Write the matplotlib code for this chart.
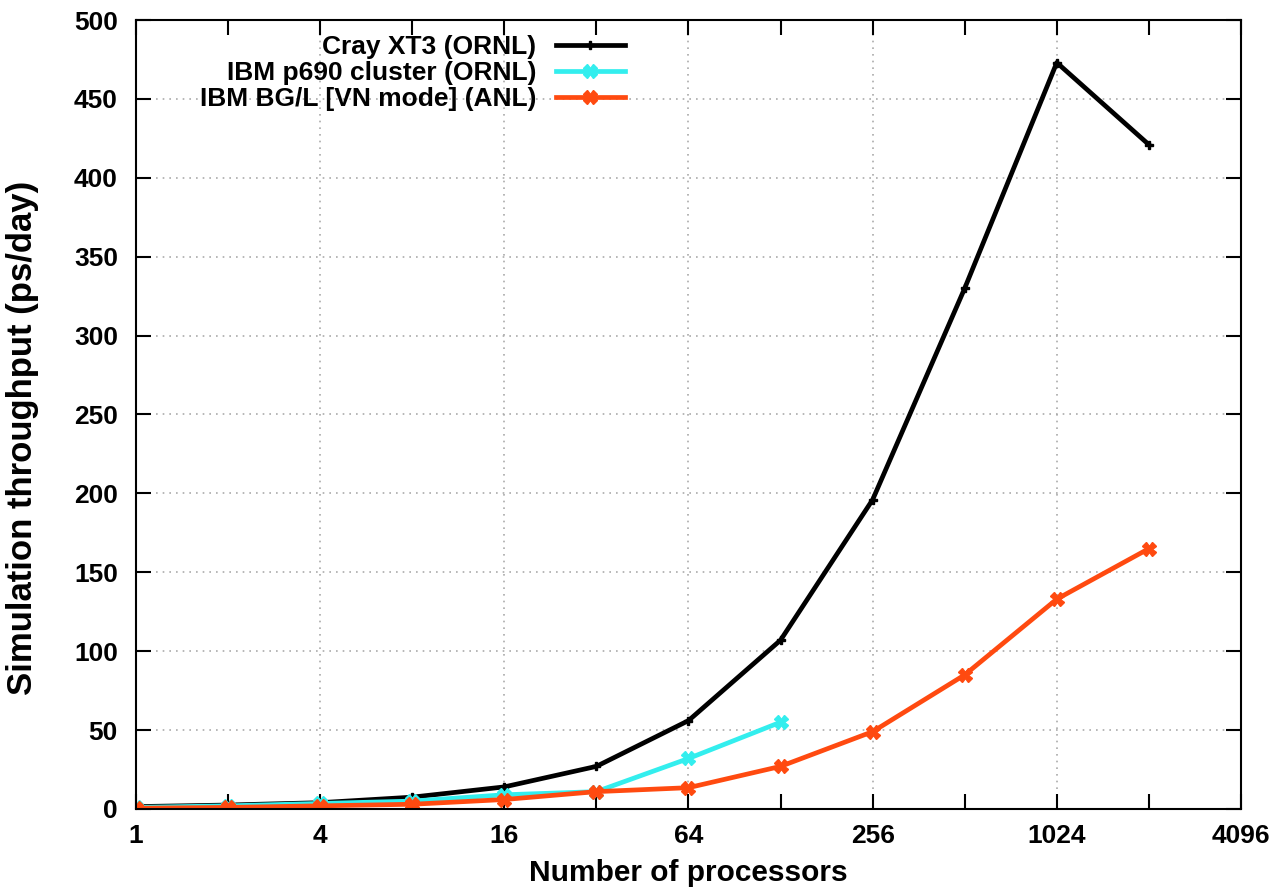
import matplotlib
matplotlib.use("Agg")
import matplotlib.pyplot as plt
from matplotlib.ticker import FixedLocator, NullFormatter

plt.rcParams['font.family'] = ['Liberation Sans', 'DejaVu Sans']
plt.rcParams['font.weight'] = 'bold'

procs_cray = [1, 2, 4, 8, 16, 32, 64, 128, 256, 512, 1024, 2048]
cray = [1.5, 2.5, 4, 7.5, 14, 27, 56, 107, 196, 330, 473, 421]
procs_p690 = [1, 2, 4, 8, 16, 32, 64, 128]
p690 = [1, 2, 3.5, 5, 9, 11, 32, 55]
procs_bgl = [1, 2, 4, 8, 16, 32, 64, 128, 256, 512, 1024, 2048]
bgl = [0.5, 1, 2, 3, 6, 11, 13.5, 27, 49, 85, 133, 165]

x_major = [1, 4, 16, 64, 256, 1024, 4096]
x_minor = [2, 8, 32, 128, 512, 2048]
y_ticks = list(range(0, 501, 50))

fig = plt.figure(figsize=(12.72, 8.89), dpi=100)
ax = fig.add_axes([0.1069, 0.0900, 0.8687, 0.8875])

ax.plot(procs_cray, cray, color='black', lw=3.4, marker='P', ms=6,
        label='Cray XT3 (ORNL)')
ax.plot(procs_p690, p690, color='#33eeee', lw=3.4, marker='X', ms=9.5,
        label='IBM p690 cluster (ORNL)')
ax.plot(procs_bgl, bgl, color='#ff4a10', lw=3.4, marker='X', ms=9.5,
        label='IBM BG/L [VN mode] (ANL)')

ax.set_xscale('log', base=2)
ax.set_xlim(1, 4096)
ax.set_ylim(0, 500)
ax.xaxis.set_major_locator(FixedLocator(x_major))
ax.set_xticklabels([str(v) for v in x_major])
ax.xaxis.set_minor_locator(FixedLocator(x_minor))
ax.xaxis.set_minor_formatter(NullFormatter())
ax.set_yticks(y_ticks)

ax.tick_params(axis='both', which='both', direction='in', top=True, right=True,
               labelsize=19, width=1.5)
ax.tick_params(axis='x', which='both', pad=11)
ax.tick_params(axis='y', which='both', pad=13)
ax.tick_params(axis='both', which='major', length=11)
ax.tick_params(axis='x', which='minor', length=11)
for s in ax.spines.values():
    s.set_linewidth(1.5)

ax.grid(True, which='major', color='#aaaaaa', linestyle=(0, (1, 3)), lw=1.2)

ax.set_xlabel('Number of processors', fontsize=21.5, fontweight='bold')
ax.set_ylabel('Simulation throughput (ps/day)', fontsize=25, fontweight='bold')
ax.xaxis.set_label_coords(0.5, -0.063)
ax.yaxis.set_label_coords(-0.088, 0.471)

leg = ax.legend(loc='upper right', bbox_to_anchor=(0.447, 0.988), frameon=False,
                markerfirst=False, fontsize=19, handlelength=2.6,
                labelspacing=0.09, handletextpad=0.75, borderaxespad=0.0,
                borderpad=0.2)
for t in leg.get_texts():
    t.set_fontweight('bold')
    t.set_ha('right')
leg._legend_box.align = 'right'

fig.savefig('out.png', dpi=100)
